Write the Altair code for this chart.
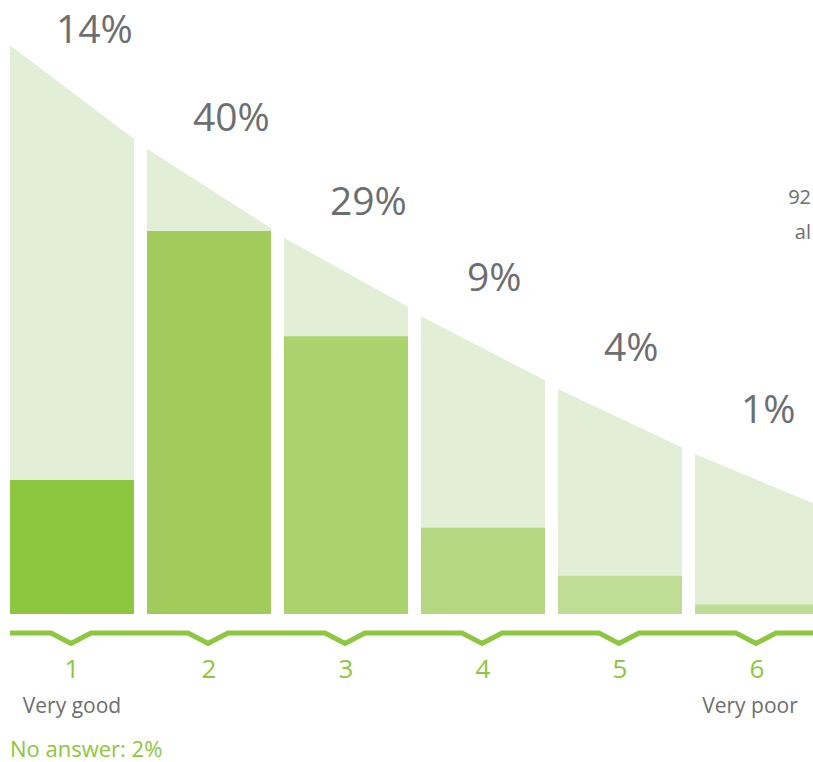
import altair as alt
import pandas as pd

# ---------------- data ----------------
categories = ["1", "2", "3", "4", "5", "6"]
shares = [14, 40, 29, 9, 4, 1]
# light background "ceiling" per column (left / right edge), in % units
ceiling_left = [59.4, 48.6, 39.3, 31.1, 23.5, 16.7]
ceiling_right = [49.6, 40.3, 32.1, 24.4, 17.4, 11.3]
first_label = "Very good"
last_label = "Very poor"
no_answer_text = "No answer: 2%"
side_notes = ["92", "al"]

# ---------------- styles / layout ----------------
bar_colors = ["#8dc63f", "#a1cb5c", "#aad26d", "#b5d782", "#c0dd95", "#c0dd95"]
BG = "#e2efd6"
GREEN = "#8dc63f"
GRAY = "#6d6e71"
FONT = "Open Sans"

W_PX, H_PX = 813, 762
LEFT_PX, PITCH_PX, COL_PX = 10, 137, 124
BASE_PX, PX_PER_PCT = 614, 9.575
COLW = COL_PX / PITCH_PX

x_dom = [(0 - LEFT_PX) / PITCH_PX, (W_PX - LEFT_PX) / PITCH_PX]
y_dom = [(BASE_PX - H_PX) / PX_PER_PCT, BASE_PX / PX_PER_PCT]
xs = alt.Scale(domain=x_dom, nice=False, zero=False)
ys = alt.Scale(domain=y_dom, nice=False, zero=False)


def px_to_pct(py):
    return (BASE_PX - py) / PX_PER_PCT


TOP_LIMIT = px_to_pct(43)  # keep the highest label inside the canvas

n = len(categories)
bars = pd.DataFrame({
    "cat": categories,
    "share": shares,
    "left": [i for i in range(n)],
    "right": [i + COLW for i in range(n)],
    "center": [i + COLW / 2 for i in range(n)],
    "label": [f"{s}%" for s in shares],
    "label_y": [min((a + b) / 2 + 5.95, TOP_LIMIT) for a, b in zip(ceiling_left, ceiling_right)],
})

ceil_rows = []
for i, c in enumerate(categories):
    ceil_rows.append({"cat": c, "x": i, "y": ceiling_left[i]})
    ceil_rows.append({"cat": c, "x": i + COLW, "y": ceiling_right[i]})
ceil = pd.DataFrame(ceil_rows)

LINE_Y = px_to_pct(633)
DIP_Y = px_to_pct(643.5)
zig_rows = [{"x": 0, "y": LINE_Y}]
for i in range(n):
    c = i + COLW / 2 - 1 / PITCH_PX
    d = 20 / PITCH_PX
    zig_rows += [{"x": c - d, "y": LINE_Y}, {"x": c, "y": DIP_Y}, {"x": c + d, "y": LINE_Y}]
zig_rows.append({"x": x_dom[1] + 0.2, "y": LINE_Y})
zig = pd.DataFrame(zig_rows)
zig["k"] = range(len(zig))

X = lambda f: alt.X(f, scale=xs, axis=None)
Y = lambda f: alt.Y(f, scale=ys, axis=None)

background = alt.Chart(ceil).mark_area(color=BG, clip=True).encode(
    x=X("x:Q"), y=Y("y:Q"), y2=alt.datum(0), detail="cat:N"
)

bar_layer = alt.Chart(bars).mark_rect(clip=True).encode(
    x=X("left:Q"), x2="right:Q", y=Y("share:Q"), y2=alt.datum(0),
    color=alt.Color("cat:N", scale=alt.Scale(domain=categories, range=bar_colors), legend=None),
)

pct_labels = alt.Chart(bars).mark_text(
    align="left", baseline="alphabetic", dx=46, fontSize=39, font=FONT, color=GRAY
).encode(x=X("left:Q"), y=Y("label_y:Q"), text="label:N")

zigzag = alt.Chart(zig).mark_line(
    color=GREEN, strokeWidth=5, clip=True, strokeJoin="miter"
).encode(x=X("x:Q"), y=Y("y:Q"), order="k:Q")

numbers = alt.Chart(bars).mark_text(
    align="center", baseline="alphabetic", fontSize=26, font=FONT, color=GREEN
).encode(x=X("center:Q"), y=alt.value(678), text="cat:N")

first_end = alt.Chart(bars.iloc[[0]].assign(t=first_label)).mark_text(
    align="center", baseline="alphabetic", fontSize=21, font=FONT, color=GRAY
).encode(x=X("center:Q"), y=alt.value(713), text="t:N")

last_end = alt.Chart(bars.iloc[[n - 1]].assign(t=last_label)).mark_text(
    align="center", baseline="alphabetic", fontSize=21, font=FONT, color=GRAY, dx=-7
).encode(x=X("center:Q"), y=alt.value(713), text="t:N")

no_answer = alt.Chart(pd.DataFrame({"t": [no_answer_text]})).mark_text(
    align="left", baseline="alphabetic", fontSize=22, font=FONT, color=GREEN
).encode(x=alt.value(10), y=alt.value(757), text="t:N")

notes_layer = [alt.Chart(pd.DataFrame({"t": [t]})).mark_text(
    align="right", baseline="alphabetic", fontSize=20, font=FONT, color=GRAY
).encode(x=alt.value(811), y=alt.value(py), text="t:N") for t, py in zip(side_notes, [204, 239])]

chart = alt.layer(
    background, bar_layer, pct_labels, zigzag, numbers, first_end, last_end, no_answer, *notes_layer
).properties(width=W_PX, height=H_PX, padding=0, autosize="none").configure_view(stroke=None)

chart.save("out.html", embed_options={"renderer": "svg", "actions": False})
